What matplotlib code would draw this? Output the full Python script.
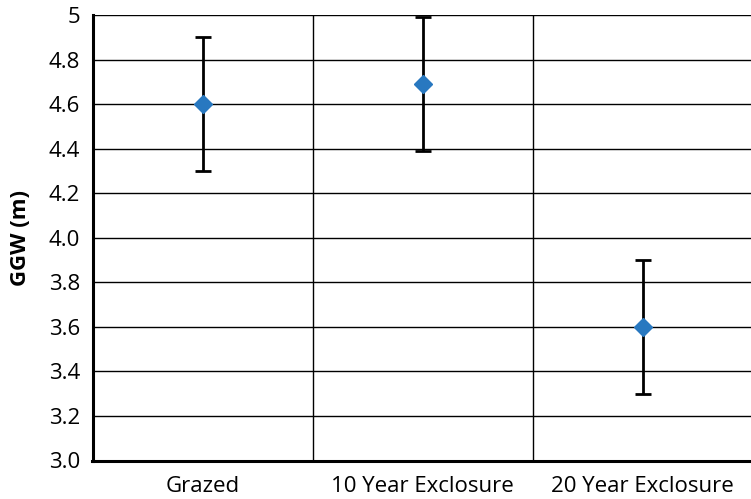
import matplotlib
matplotlib.use("Agg")
import matplotlib.pyplot as plt
import matplotlib.ticker as ticker

categories = ["Grazed", "10 Year Exclosure", "20 Year Exclosure"]
means = [4.60, 4.69, 3.60]
errors = [0.30, 0.30, 0.30]
y_ticks = [3.0, 3.2, 3.4, 3.6, 3.8, 4.0, 4.2, 4.4, 4.6, 4.8, 5.0]
y_tick_labels = ["3.0", "3.2", "3.4", "3.6", "3.8", "4.0", "4.2", "4.4", "4.6", "4.8", "5"]

plt.rcParams["font.family"] = ["Open Sans", "DejaVu Sans"]

fig = plt.figure(figsize=(7.51, 4.99), dpi=100)
ax = fig.add_axes([92.5 / 751, 1 - 460.5 / 499, 660 / 751, 445.5 / 499])

x = list(range(len(categories)))
ax.errorbar(x, means, yerr=errors, fmt="D", color="#2878c0", markersize=9,
            ecolor="black", elinewidth=2, capsize=6, capthick=2, zorder=3)

ax.set_xlim(-0.5, len(categories) - 0.5)
ax.set_ylim(3.0, 5.0)
ax.set_yticks(y_ticks)
ax.set_yticklabels(y_tick_labels)
ax.set_xticks(x)
ax.set_xticklabels(categories)
ax.xaxis.set_minor_locator(ticker.FixedLocator([0.5, 1.5]))

ax.grid(axis="y", which="major", color="black", linewidth=1)
ax.grid(axis="x", which="minor", color="black", linewidth=1)
ax.set_axisbelow(True)

ax.tick_params(axis="both", which="both", length=0, labelsize=16)
ax.tick_params(axis="y", pad=9)
ax.tick_params(axis="x", pad=11)

for side in ["top", "right"]:
    ax.spines[side].set_visible(False)
for side in ["left", "bottom"]:
    ax.spines[side].set_linewidth(2.2)

ax.set_ylabel("GGW (m)", fontsize=16, fontweight="bold", labelpad=13)

fig.savefig("out.png", dpi=100)
